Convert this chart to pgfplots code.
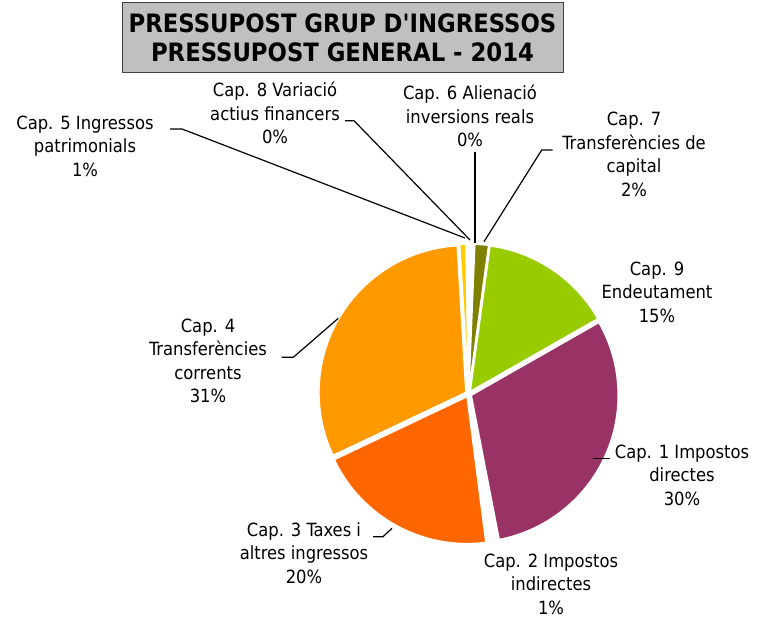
\documentclass[border=0pt]{standalone}
\usepackage{fontspec}
\setmainfont{DejaVu Sans Condensed}
\usepackage{pgfplots}
\usepackage{pgfplotstable}
\pgfplotsset{compat=1.18}
\definecolor{capi}{HTML}{993366}
\definecolor{capiii}{HTML}{FF6600}
\definecolor{capiv}{HTML}{FF9900}
\definecolor{capv}{HTML}{FFCC00}
\definecolor{capvii}{HTML}{808000}
\definecolor{capix}{HTML}{99CC00}
\definecolor{titlegray}{HTML}{C0C0C0}
\definecolor{titleborder}{HTML}{404040}

% share of each chapter, clockwise from 12 o'clock
\pgfplotstableread{
cap value colour
6 0.6 white
7 1.5 capvii
9 14.6 capix
1 30.2 capi
2 1.0 white
3 20.0 capiii
4 31.1 capiv
5 0.7 capv
8 0.3 white
}\piedata

\begin{document}
\begin{tikzpicture}[lbl/.style={align=center, inner sep=0pt, font=\fontsize{18.2}{23.5}\selectfont},
  lead/.style={line width=1.2pt}]
\begin{axis}[
  hide axis, scale only axis,
  width=776pt, height=619pt,
  xmin=0, xmax=776, ymin=0, ymax=619,
  clip=false,
]
% slices, slightly exploded
\def\cum{89.8}
\pgfplotsforeachungrouped \i in {0,...,8}{%
  \pgfplotstablegetelem{\i}{value}\of\piedata
  \let\val\pgfplotsretval
  \pgfplotstablegetelem{\i}{colour}\of\piedata
  \let\col\pgfplotsretval
  \pgfmathsetmacro\sa{\cum}
  \pgfmathsetmacro\ea{\cum-3.6*\val}
  \pgfmathsetmacro\md{(\sa+\ea)/2}
  \pgfmathsetmacro\cx{468.5+3*cos(\md)}
  \pgfmathsetmacro\cy{225+3*sin(\md)}
  \edef\slice{\noexpand\fill[fill=\col, draw=white, line width=1.5pt, line join=round]
    (axis cs:\cx,\cy) -- ++(\sa:147pt) arc[start angle=\sa, end angle=\ea, radius=147pt] -- cycle;}
  \slice
  \global\let\cum\ea
}

% title
\draw[fill=titlegray, draw=titleborder, line width=0.8pt] (axis cs:122,547) rectangle (axis cs:563,617);
\node[align=center, font=\bfseries\fontsize{25.3}{29}\selectfont] at (axis cs:342.5,581.5)
  {PRESSUPOST GRUP D\textquotesingle INGRESSOS\\PRESSUPOST GENERAL - 2014};

% leader lines
\draw[lead] (axis cs:170,490) -- (axis cs:182,490) -- (axis cs:465,381);
\draw[lead] (axis cs:345,498.3) -- (axis cs:354,498.3) -- (axis cs:470,379);
\draw[lead] (axis cs:475,467.3) -- (axis cs:475,376);
\draw[lead] (axis cs:552.7,469) -- (axis cs:541.7,469) -- (axis cs:484,377.3);
\draw[lead] (axis cs:593,160.7) -- (axis cs:610,160.7);
\draw[lead] (axis cs:373,82.3) -- (axis cs:383,82.3) -- (axis cs:392,90.7);
\draw[lead] (axis cs:281.7,261.7) -- (axis cs:293.3,261.7) -- (axis cs:338.3,300.7);

% labels
\node[lbl] at (axis cs:85,473) {Cap. 5 Ingressos\\patrimonials\\1\%};
\node[lbl] at (axis cs:275,506) {Cap. 8 Variació\\actius financers\\0\%};
\node[lbl] at (axis cs:470,503) {Cap. 6 Alienació\\inversions reals\\0\%};
\node[lbl] at (axis cs:634,464.5) {Cap. 7\\Transferències de\\capital\\2\%};
\node[lbl] at (axis cs:657,327) {Cap. 9\\Endeutament\\15\%};
\node[lbl] at (axis cs:682,144) {Cap. 1 Impostos\\directes\\30\%};
\node[lbl] at (axis cs:551,35) {Cap. 2 Impostos\\indirectes\\1\%};
\node[lbl] at (axis cs:304,66) {Cap. 3 Taxes i\\altres ingressos\\20\%};
\node[lbl] at (axis cs:208,258) {Cap. 4\\Transferències\\corrents\\31\%};
\end{axis}
\pgfresetboundingbox
\path (0,0) rectangle (776pt,619pt);
\end{tikzpicture}
\end{document}
